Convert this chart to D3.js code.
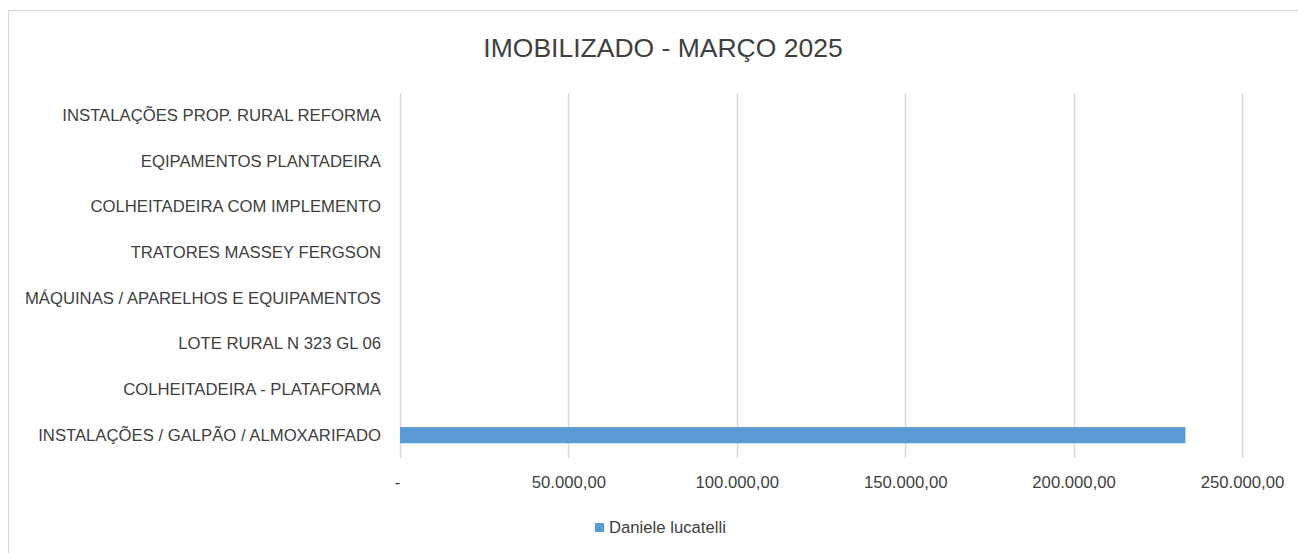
<!DOCTYPE html>
<html>
<head>
<meta charset="utf-8">
<script src="https://cdn.jsdelivr.net/npm/d3@7"></script>
<style>
  body { margin: 0; background: #fff; }
  text { font-family: "Liberation Sans", Arial, sans-serif; fill: #404040; }
</style>
</head>
<body>
<script>
// categories top to bottom, as they appear in the chart
var categories = [
  "INSTALAÇÕES PROP. RURAL REFORMA",
  "EQIPAMENTOS PLANTADEIRA",
  "COLHEITADEIRA COM IMPLEMENTO",
  "TRATORES MASSEY FERGSON",
  "MÁQUINAS / APARELHOS E EQUIPAMENTOS",
  "LOTE RURAL N 323 GL 06",
  "COLHEITADEIRA - PLATAFORMA",
  "INSTALAÇÕES / GALPÃO / ALMOXARIFADO"
];
var values = [0, 0, 0, 0, 0, 0, 0, 233200];
var tickValues = [0, 50000, 100000, 150000, 200000, 250000];
var tickLabels = ["-", "50.000,00", "100.000,00", "150.000,00", "200.000,00", "250.000,00"];
var seriesName = "Daniele lucatelli";
var title = "IMOBILIZADO - MARÇO 2025";

var width = 1298, height = 553;

var svg = d3.select("body").append("svg")
    .attr("width", width)
    .attr("height", height);

// chart frame (runs off the right and bottom edges)
svg.append("rect")
    .attr("x", 8.5).attr("y", 10.5)
    .attr("width", 1330).attr("height", 600)
    .attr("fill", "none")
    .attr("stroke", "#d9d9d9");

var x = d3.scaleLinear().domain([0, 250000]).range([400, 1242]);
var y = d3.scaleBand().domain(categories).range([93, 458]).paddingInner(0.645).paddingOuter(0.3225);

// gridlines
svg.append("g").selectAll("line")
  .data(tickValues)
  .enter().append("line")
    .attr("x1", function(d) { return Math.round(x(d)) + 0.5; })
    .attr("x2", function(d) { return Math.round(x(d)) + 0.5; })
    .attr("y1", 93).attr("y2", 458)
    .attr("stroke", "#d9d9d9")
    .attr("stroke-width", 1.5);

// bars
svg.append("g").selectAll("rect")
  .data(values)
  .enter().append("rect")
    .attr("x", x(0))
    .attr("y", function(d, i) { return y(categories[i]); })
    .attr("width", function(d) { return x(d) - x(0); })
    .attr("height", y.bandwidth())
    .attr("fill", "#5b9bd5");

// category axis
var yAxis = svg.append("g")
    .attr("transform", "translate(400,0)")
    .call(d3.axisLeft(y).tickSize(0).tickPadding(19));
yAxis.select(".domain").remove();
yAxis.selectAll("text")
    .style("font-size", "16.7px")
    .attr("fill", "#404040");

// value axis
var xAxis = svg.append("g")
    .attr("transform", "translate(0,458)")
    .call(d3.axisBottom(x).tickValues(tickValues).tickSize(0).tickPadding(18)
      .tickFormat(function(d, i) { return tickLabels[i]; }));
xAxis.select(".domain").remove();
xAxis.selectAll("text")
    .style("font-size", "16.7px")
    .attr("fill", "#404040")
    .attr("dx", function(d) { return d === 0 ? -3 : 0; });

// title
svg.append("text")
    .attr("x", 663).attr("y", 57)
    .attr("text-anchor", "middle")
    .style("font-size", "26.5px")
    .attr("fill", "#404040")
    .text(title);

// legend
var legend = svg.append("g").attr("transform", "translate(595,523)");
legend.append("rect")
    .attr("width", 9).attr("height", 9)
    .attr("fill", "#5b9bd5");
legend.append("text")
    .attr("x", 14).attr("y", 10)
    .style("font-size", "16.7px")
    .text(seriesName);
</script>
</body>
</html>
